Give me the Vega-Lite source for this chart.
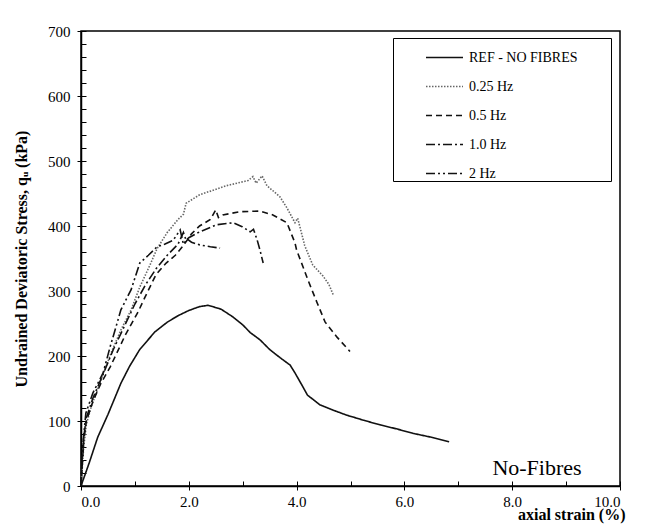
{
  "$schema": "https://vega.github.io/schema/vega-lite/v6.json",
  "width": 539,
  "height": 455,
  "autosize": {"type": "none"},
  "padding": {"left": 81, "top": 31, "right": 28, "bottom": 39},
  "background": "white",
  "title": {"text": "developed during the cyclic stages.", "anchor": "start", "frame": "group", "dx": -73, "dy": 9, "offset": 20, "baseline": "alphabetic", "font": "Liberation Serif", "fontSize": 17, "fontWeight": "normal", "color": "#222222"},
  "config": {
    "view": {"stroke": "black", "strokeWidth": 1.5},
    "font": "Liberation Serif",
    "axis": {"grid": false, "domainColor": "black", "tickColor": "black", "labelColor": "black", "titleColor": "black", "labelFont": "Liberation Serif", "titleFont": "Liberation Serif", "labelFontSize": 15, "titleFontSize": 16, "titleFontWeight": "bold", "domainWidth": 1.5, "tickWidth": 1}
  },
  "datasets": {
    "curves": [
      {"s": "REF - NO FIBRES", "x": 0, "y": 0},
      {"s": "REF - NO FIBRES", "x": 0.15, "y": 35},
      {"s": "REF - NO FIBRES", "x": 0.31, "y": 75},
      {"s": "REF - NO FIBRES", "x": 0.5, "y": 110},
      {"s": "REF - NO FIBRES", "x": 0.74, "y": 158},
      {"s": "REF - NO FIBRES", "x": 0.9, "y": 184},
      {"s": "REF - NO FIBRES", "x": 1.09, "y": 210},
      {"s": "REF - NO FIBRES", "x": 1.37, "y": 237},
      {"s": "REF - NO FIBRES", "x": 1.6, "y": 252},
      {"s": "REF - NO FIBRES", "x": 1.8, "y": 262},
      {"s": "REF - NO FIBRES", "x": 2.0, "y": 270},
      {"s": "REF - NO FIBRES", "x": 2.2, "y": 276},
      {"s": "REF - NO FIBRES", "x": 2.36, "y": 278},
      {"s": "REF - NO FIBRES", "x": 2.6, "y": 272},
      {"s": "REF - NO FIBRES", "x": 2.82, "y": 260},
      {"s": "REF - NO FIBRES", "x": 3.0, "y": 248},
      {"s": "REF - NO FIBRES", "x": 3.14, "y": 236},
      {"s": "REF - NO FIBRES", "x": 3.32, "y": 225},
      {"s": "REF - NO FIBRES", "x": 3.5, "y": 210},
      {"s": "REF - NO FIBRES", "x": 3.7, "y": 197},
      {"s": "REF - NO FIBRES", "x": 3.88, "y": 186},
      {"s": "REF - NO FIBRES", "x": 3.97, "y": 174},
      {"s": "REF - NO FIBRES", "x": 4.1, "y": 155},
      {"s": "REF - NO FIBRES", "x": 4.2, "y": 140},
      {"s": "REF - NO FIBRES", "x": 4.43, "y": 125},
      {"s": "REF - NO FIBRES", "x": 4.7, "y": 116},
      {"s": "REF - NO FIBRES", "x": 4.93, "y": 109},
      {"s": "REF - NO FIBRES", "x": 5.25, "y": 101},
      {"s": "REF - NO FIBRES", "x": 5.55, "y": 94},
      {"s": "REF - NO FIBRES", "x": 5.85, "y": 88},
      {"s": "REF - NO FIBRES", "x": 6.16, "y": 81},
      {"s": "REF - NO FIBRES", "x": 6.5, "y": 75},
      {"s": "REF - NO FIBRES", "x": 6.83, "y": 68},

      {"s": "0.25 Hz", "x": 0, "y": 0},
      {"s": "0.25 Hz", "x": 0.05, "y": 60},
      {"s": "0.25 Hz", "x": 0.1, "y": 95},
      {"s": "0.25 Hz", "x": 0.19, "y": 122},
      {"s": "0.25 Hz", "x": 0.37, "y": 163},
      {"s": "0.25 Hz", "x": 0.56, "y": 205},
      {"s": "0.25 Hz", "x": 0.74, "y": 240},
      {"s": "0.25 Hz", "x": 0.93, "y": 271},
      {"s": "0.25 Hz", "x": 1.09, "y": 306},
      {"s": "0.25 Hz", "x": 1.28, "y": 340},
      {"s": "0.25 Hz", "x": 1.41, "y": 365},
      {"s": "0.25 Hz", "x": 1.6, "y": 390},
      {"s": "0.25 Hz", "x": 1.8, "y": 410},
      {"s": "0.25 Hz", "x": 1.9, "y": 418},
      {"s": "0.25 Hz", "x": 1.95, "y": 435},
      {"s": "0.25 Hz", "x": 2.2, "y": 448},
      {"s": "0.25 Hz", "x": 2.45, "y": 455},
      {"s": "0.25 Hz", "x": 2.7, "y": 462},
      {"s": "0.25 Hz", "x": 2.95, "y": 467},
      {"s": "0.25 Hz", "x": 3.1, "y": 470},
      {"s": "0.25 Hz", "x": 3.19, "y": 476},
      {"s": "0.25 Hz", "x": 3.25, "y": 466},
      {"s": "0.25 Hz", "x": 3.36, "y": 477},
      {"s": "0.25 Hz", "x": 3.45, "y": 462},
      {"s": "0.25 Hz", "x": 3.69, "y": 445},
      {"s": "0.25 Hz", "x": 3.82, "y": 428},
      {"s": "0.25 Hz", "x": 3.97, "y": 405},
      {"s": "0.25 Hz", "x": 4.02, "y": 412},
      {"s": "0.25 Hz", "x": 4.15, "y": 370},
      {"s": "0.25 Hz", "x": 4.3, "y": 340},
      {"s": "0.25 Hz", "x": 4.49, "y": 323},
      {"s": "0.25 Hz", "x": 4.6, "y": 310},
      {"s": "0.25 Hz", "x": 4.68, "y": 294},

      {"s": "0.5 Hz", "x": 0, "y": 0},
      {"s": "0.5 Hz", "x": 0.05, "y": 70},
      {"s": "0.5 Hz", "x": 0.1, "y": 100},
      {"s": "0.5 Hz", "x": 0.22, "y": 130},
      {"s": "0.5 Hz", "x": 0.37, "y": 158},
      {"s": "0.5 Hz", "x": 0.54, "y": 183},
      {"s": "0.5 Hz", "x": 0.69, "y": 209},
      {"s": "0.5 Hz", "x": 0.82, "y": 232},
      {"s": "0.5 Hz", "x": 1.06, "y": 268},
      {"s": "0.5 Hz", "x": 1.19, "y": 291},
      {"s": "0.5 Hz", "x": 1.39, "y": 325},
      {"s": "0.5 Hz", "x": 1.58, "y": 343},
      {"s": "0.5 Hz", "x": 1.75, "y": 355},
      {"s": "0.5 Hz", "x": 1.9, "y": 370},
      {"s": "0.5 Hz", "x": 2.05, "y": 388},
      {"s": "0.5 Hz", "x": 2.2, "y": 400},
      {"s": "0.5 Hz", "x": 2.4, "y": 410},
      {"s": "0.5 Hz", "x": 2.5, "y": 425},
      {"s": "0.5 Hz", "x": 2.55, "y": 413},
      {"s": "0.5 Hz", "x": 2.63, "y": 417},
      {"s": "0.5 Hz", "x": 2.95, "y": 422},
      {"s": "0.5 Hz", "x": 3.32, "y": 423},
      {"s": "0.5 Hz", "x": 3.56, "y": 417},
      {"s": "0.5 Hz", "x": 3.82, "y": 405},
      {"s": "0.5 Hz", "x": 3.97, "y": 374},
      {"s": "0.5 Hz", "x": 4.0, "y": 363},
      {"s": "0.5 Hz", "x": 4.12, "y": 337},
      {"s": "0.5 Hz", "x": 4.21, "y": 317},
      {"s": "0.5 Hz", "x": 4.38, "y": 282},
      {"s": "0.5 Hz", "x": 4.53, "y": 252},
      {"s": "0.5 Hz", "x": 4.75, "y": 229},
      {"s": "0.5 Hz", "x": 4.99, "y": 207},

      {"s": "1.0 Hz", "x": 0, "y": 0},
      {"s": "1.0 Hz", "x": 0.05, "y": 75},
      {"s": "1.0 Hz", "x": 0.1, "y": 105},
      {"s": "1.0 Hz", "x": 0.22, "y": 135},
      {"s": "1.0 Hz", "x": 0.4, "y": 170},
      {"s": "1.0 Hz", "x": 0.6, "y": 210},
      {"s": "1.0 Hz", "x": 0.8, "y": 245},
      {"s": "1.0 Hz", "x": 1.0, "y": 280},
      {"s": "1.0 Hz", "x": 1.2, "y": 310},
      {"s": "1.0 Hz", "x": 1.4, "y": 335},
      {"s": "1.0 Hz", "x": 1.6, "y": 355},
      {"s": "1.0 Hz", "x": 1.8, "y": 372},
      {"s": "1.0 Hz", "x": 1.9, "y": 390},
      {"s": "1.0 Hz", "x": 1.95, "y": 378},
      {"s": "1.0 Hz", "x": 2.0, "y": 382},
      {"s": "1.0 Hz", "x": 2.2, "y": 391},
      {"s": "1.0 Hz", "x": 2.52, "y": 402},
      {"s": "1.0 Hz", "x": 2.82, "y": 405},
      {"s": "1.0 Hz", "x": 2.99, "y": 399},
      {"s": "1.0 Hz", "x": 3.14, "y": 391},
      {"s": "1.0 Hz", "x": 3.2, "y": 395},
      {"s": "1.0 Hz", "x": 3.27, "y": 378},
      {"s": "1.0 Hz", "x": 3.32, "y": 363},
      {"s": "1.0 Hz", "x": 3.38, "y": 343},

      {"s": "2 Hz", "x": 0, "y": 0},
      {"s": "2 Hz", "x": 0.03, "y": 60},
      {"s": "2 Hz", "x": 0.09, "y": 112},
      {"s": "2 Hz", "x": 0.22, "y": 143},
      {"s": "2 Hz", "x": 0.41, "y": 174},
      {"s": "2 Hz", "x": 0.54, "y": 214},
      {"s": "2 Hz", "x": 0.65, "y": 245},
      {"s": "2 Hz", "x": 0.74, "y": 271},
      {"s": "2 Hz", "x": 0.93, "y": 302},
      {"s": "2 Hz", "x": 1.09, "y": 343},
      {"s": "2 Hz", "x": 1.25, "y": 355},
      {"s": "2 Hz", "x": 1.41, "y": 368},
      {"s": "2 Hz", "x": 1.55, "y": 372},
      {"s": "2 Hz", "x": 1.71, "y": 378},
      {"s": "2 Hz", "x": 1.84, "y": 394},
      {"s": "2 Hz", "x": 1.9, "y": 372},
      {"s": "2 Hz", "x": 1.97, "y": 380},
      {"s": "2 Hz", "x": 2.05, "y": 375},
      {"s": "2 Hz", "x": 2.2, "y": 371},
      {"s": "2 Hz", "x": 2.4, "y": 368},
      {"s": "2 Hz", "x": 2.58, "y": 366}
    ],
    "note": [{"x": 8.46, "y": 28, "label": "No-Fibres"}]
  },
  "layer": [
    {
      "data": {"name": "curves"},
      "mark": {"type": "line", "strokeWidth": 1.6},
      "encoding": {
        "x": {"field": "x", "type": "quantitative", "scale": {"domain": [0, 10], "nice": false},
              "axis": {"orient": "bottom", "values": [0, 2, 4, 6, 8, 10], "format": ".1f", "tickSize": 4, "labelPadding": 4, "title": "axial strain (%)", "titleAnchor": "end", "titleAlign": "right", "titleX": 544, "titleY": 36, "titleBaseline": "bottom"}},
        "y": {"field": "y", "type": "quantitative", "scale": {"domain": [0, 700], "nice": false},
              "axis": {"orient": "left", "values": [0, 100, 200, 300, 400, 500, 600, 700], "tickSize": 4, "labelPadding": 7, "title": "Undrained Deviatoric Stress, qᵤ (kPa)", "titlePadding": 18}},
        "color": {"field": "s", "type": "nominal",
                  "scale": {"domain": ["REF - NO FIBRES", "0.25 Hz", "0.5 Hz", "1.0 Hz", "2 Hz"], "range": ["#111111", "#666666", "#111111", "#111111", "#111111"]},
                  "legend": {"title": "\u00a0", "titleOrient": "right", "titlePadding": 33, "titleFontSize": 8, "orient": "none", "legendX": 312, "legendY": 7, "strokeColor": "black", "fillColor": "white", "padding": 0, "symbolOffset": 32, "symbolType": "stroke", "symbolSize": 1369, "symbolStrokeWidth": 1.5, "labelFont": "Liberation Serif", "labelFontSize": 14, "labelColor": "black", "labelOffset": 5, "rowPadding": 2}},
        "strokeDash": {"field": "s", "type": "nominal",
                  "scale": {"domain": ["REF - NO FIBRES", "0.25 Hz", "0.5 Hz", "1.0 Hz", "2 Hz"], "range": [[1, 0], [1.5, 1.5], [6, 4], [9, 3, 2, 3], [9, 3, 2, 3, 2, 3]]},
                  "legend": {"title": "\u00a0", "titleOrient": "right", "titlePadding": 33, "titleFontSize": 8, "orient": "none", "legendX": 312, "legendY": 7, "strokeColor": "black", "fillColor": "white", "padding": 0, "symbolOffset": 32, "symbolType": "stroke", "symbolSize": 1369, "symbolStrokeWidth": 1.5, "labelFont": "Liberation Serif", "labelFontSize": 14, "labelColor": "black", "labelOffset": 5, "rowPadding": 2}},
        "order": {"field": "x", "type": "quantitative"}
      }
    },
    {
      "data": {"name": "curves"},
      "mark": {"type": "line", "opacity": 0},
      "encoding": {
        "x": {"field": "x", "type": "quantitative", "axis": {"orient": "bottom", "values": [0, 1, 2, 3, 4, 5, 6, 7, 8, 9, 10], "labels": false, "domain": false, "tickSize": -5, "title": null}},
        "y": {"field": "y", "type": "quantitative", "axis": {"orient": "left", "values": [0, 20, 40, 60, 80, 100, 120, 140, 160, 180, 200, 220, 240, 260, 280, 300, 320, 340, 360, 380, 400, 420, 440, 460, 480, 500, 520, 540, 560, 580, 600, 620, 640, 660, 680, 700], "labels": false, "domain": false, "tickSize": -5, "title": null}},
        "detail": {"field": "s"}
      }
    },
    {
      "data": {"name": "note"},
      "mark": {"type": "text", "font": "Liberation Serif", "fontSize": 22, "color": "black"},
      "encoding": {
        "x": {"field": "x", "type": "quantitative", "axis": null},
        "y": {"field": "y", "type": "quantitative", "axis": null},
        "text": {"field": "label"}
      }
    }
  ],
  "resolve": {"axis": {"x": "independent", "y": "independent"}}
}
